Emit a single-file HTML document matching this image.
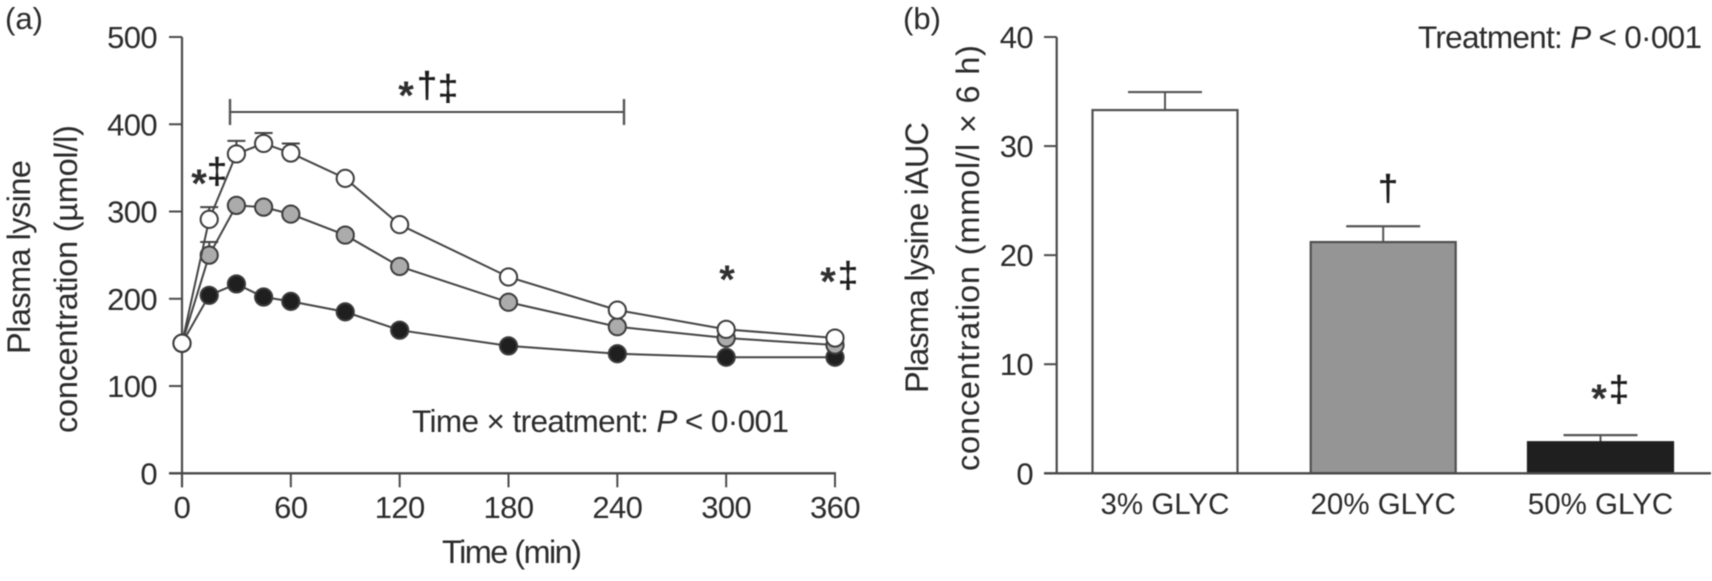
<!DOCTYPE html>
<html>
<head>
<meta charset="utf-8">
<title>Plasma lysine concentration and iAUC</title>
<style>
html,body{margin:0;padding:0;background:#fff;width:1712px;height:581px;overflow:hidden}
svg{display:block;filter:blur(0.55px)}
text{font-family:"Liberation Sans",sans-serif;fill:#2b2b2b}
.tick{font-size:31px;letter-spacing:-0.6px}
.note{font-size:31.5px}
.lab{font-size:32.5px}
.panel{font-size:31px}
.sym{font-size:36px;fill:#1c1c1c;stroke:#1c1c1c;stroke-width:0.5px}
.star{font-size:40px;fill:#2f2f2f;font-weight:bold}
</style>
</head>
<body>
<svg id="figure" xmlns="http://www.w3.org/2000/svg" width="1712" height="581" viewBox="0 0 1712 581">
  <g id="panel-a"></g>
  <g id="panel-b"></g>
  <g id="labels">
    <text x="5" y="29" class="panel">(a)</text>
    <text x="903" y="29" class="panel">(b)</text>
    <text transform="translate(30,354) rotate(-90)" class="lab" textLength="194" lengthAdjust="spacing">Plasma lysine</text>
    <text transform="translate(77,433) rotate(-90)" class="lab" textLength="308" lengthAdjust="spacing">concentration (µmol/l)</text>
    <text x="442" y="563" class="lab" textLength="140" lengthAdjust="spacing">Time (min)</text>
    <text x="412" y="432" class="note" textLength="377" lengthAdjust="spacing">Time × treatment: <tspan font-style="italic">P</tspan> &lt; 0·001</text>
    <text transform="translate(928,393) rotate(-90)" class="lab" textLength="271" lengthAdjust="spacing">Plasma lysine iAUC</text>
    <text transform="translate(979,471) rotate(-90)" class="lab" textLength="426" lengthAdjust="spacing">concentration (mmol/l × 6 h)</text>
    <text x="1418" y="48" class="note" textLength="284" lengthAdjust="spacing">Treatment: <tspan font-style="italic">P</tspan> &lt; 0·001</text>
  </g>
  <g id="annotations" text-anchor="middle">
    <line x1="230" y1="112" x2="624" y2="112" stroke="#4a4a4a" stroke-width="2"/>
    <line x1="230" y1="99" x2="230" y2="125" stroke="#555" stroke-width="2.4"/>
    <line x1="624" y1="99" x2="624" y2="125" stroke="#555" stroke-width="2.4"/>
    <text x="199" y="197" class="star">*</text>
    <text x="217" y="183" class="sym">‡</text>
    <text x="406" y="109" class="star">*</text>
    <text x="427" y="97" class="sym">†</text>
    <text x="448" y="100" class="sym">‡</text>
    <text x="727" y="293" class="star">*</text>
    <text x="828" y="295" class="star">*</text>
    <text x="848" y="287" class="sym">‡</text>
    <text x="1388" y="200" class="sym">†</text>
    <text x="1599" y="412" class="star">*</text>
    <text x="1619" y="401" class="sym">‡</text>
  </g>
</svg>
<script>
// Panel (a) data
var timePoints = [0, 15, 30, 45, 60, 90, 120, 180, 240, 300, 360];
var lysine3 = [149, 291, 366, 378, 367, 338, 285, 225, 187, 165, 155];
var lysine20 = [149, 250, 307, 305, 297, 273, 237, 196, 168, 155, 147];
var lysine50 = [149, 204, 217, 202, 197, 185, 164, 146, 137, 133, 133];
var lysine3Err = [0, 14, 15, 12, 11, 0, 0, 0, 0, 0, 0];
var lysine20Err = [0, 15, 0, 0, 0, 0, 0, 0, 0, 0, 0];
var lysine50Err = [0, 0, 0, 0, 0, 0, 0, 0, 0, 0, 0];
var xTicksA = [0, 60, 120, 180, 240, 300, 360];
var yTicksA = [0, 100, 200, 300, 400, 500];
// Panel (b) data
var barCategories = ['3% GLYC', '20% GLYC', '50% GLYC'];
var barValues = [33.3, 21.2, 2.85];
var barErrors = [1.65, 1.45, 0.65];
var yTicksB = [0, 10, 20, 30, 40];

// Axis functions
function xA(t) { return 182 + t * (835 - 182) / 360; }
function yA(v) { return 473.3 - v * (473.3 - 37) / 500; }
function yB(v) { return 473.3 - v * (473.3 - 37) / 40; }
function barLeft(i) { return [1092.5, 1310.7, 1528][i]; }
var barWidth = 145;

var NS = 'http://www.w3.org/2000/svg';
function make(parent, tag, attrs, txt) {
  var e = document.createElementNS(NS, tag);
  for (var k in attrs) e.setAttribute(k, attrs[k]);
  if (txt !== undefined) e.textContent = txt;
  parent.appendChild(e);
  return e;
}
var axisColor = '#4a4a4a';
var a = document.getElementById('panel-a');
var b = document.getElementById('panel-b');
var el;

// Panel (a) axes
el = make(a, 'line', {x1: xA(0), y1: yA(500), x2: xA(0), y2: yA(0) + 14, stroke: axisColor, 'stroke-width': 2.2});


el = make(a, 'line', {x1: 169, y1: yA(0), x2: xA(360) + 1, y2: yA(0), stroke: axisColor, 'stroke-width': 2.4});


yTicksA.forEach(function (v) {
  var t = make(a, 'line', {x1: 169, y1: yA(v), x2: xA(0), y2: yA(v), stroke: axisColor, 'stroke-width': 2});
  
  
  var l = make(a, 'text', {x: 157, y: yA(v) + 11, 'text-anchor': 'end', 'class': 'tick'}, String(v));
  
  
});
xTicksA.forEach(function (v) {
  var t = make(a, 'line', {x1: xA(v), y1: yA(0), x2: xA(v), y2: yA(0) + 14, stroke: axisColor, 'stroke-width': 2});
  
  
  var l = make(a, 'text', {x: xA(v), y: 518, 'text-anchor': 'middle', 'class': 'tick'}, String(v));
  
  
});

// Panel (a) series: drawn black first, white on top
function drawSeries(values, errors, fill, name) {
  var g = make(a, 'g', {});
  
  
  var pts = values.map(function (v, i) { return xA(timePoints[i]) + ',' + yA(v); }).join(' ');
  var line = make(g, 'polyline', {points: pts, fill: 'none', stroke: '#444', 'stroke-width': 2});
  
  
  values.forEach(function (v, i) {
    if (errors[i] > 0) {
      var top = yA(v + errors[i]);
      var stem = make(g, 'line', {x1: xA(timePoints[i]), y1: yA(v), x2: xA(timePoints[i]), y2: top, stroke: '#444', 'stroke-width': 2});
      
      
      var cap = make(g, 'line', {x1: xA(timePoints[i]) - 9, y1: top, x2: xA(timePoints[i]) + 9, y2: top, stroke: '#444', 'stroke-width': 2});
      
      
    }
  });
  values.forEach(function (v, i) {
    var c = make(g, 'circle', {cx: xA(timePoints[i]), cy: yA(v), r: 8.6, fill: fill, stroke: '#3c3c3c', 'stroke-width': 2});
    
    
  });
}
drawSeries(lysine50, lysine50Err, '#1f1f1f', 'series-50-glyc');
drawSeries(lysine20, lysine20Err, '#ababab', 'series-20-glyc');
drawSeries(lysine3, lysine3Err, '#ffffff', 'series-3-glyc');

// Panel (b) axes
el = make(b, 'line', {x1: 1056.7, y1: yB(40), x2: 1056.7, y2: yB(0), stroke: axisColor, 'stroke-width': 2.2});


yTicksB.forEach(function (v) {
  var t = make(b, 'line', {x1: 1044, y1: yB(v), x2: 1056.7, y2: yB(v), stroke: axisColor, 'stroke-width': 2});
  
  
  var l = make(b, 'text', {x: 1033, y: yB(v) + 11, 'text-anchor': 'end', 'class': 'tick'}, String(v));
  
  
});

// Panel (b) bars
var barFills = ['#ffffff', '#959595', '#1f1f1f'];
barCategories.forEach(function (c, i) {
  var cx = barLeft(i) + barWidth / 2;
  var top = yB(barValues[i] + barErrors[i]);
  var stem = make(b, 'line', {x1: cx, y1: yB(barValues[i]), x2: cx, y2: top, stroke: '#555', 'stroke-width': 2});
  
  
  var cap = make(b, 'line', {x1: cx - 37, y1: top, x2: cx + 37, y2: top, stroke: '#555', 'stroke-width': 2.2});
  
  
  var r = make(b, 'rect', {x: barLeft(i), y: yB(barValues[i]), width: barWidth, height: yB(0) - yB(barValues[i]), fill: barFills[i], stroke: i === 2 ? '#1f1f1f' : '#505050', 'stroke-width': 2.2});
  
  
  var l = make(b, 'text', {x: cx, y: 514, 'text-anchor': 'middle', 'class': 'tick', style: 'font-size:29.5px;letter-spacing:0'}, c);
  
  
});
el = make(b, 'line', {x1: 1044, y1: yB(0), x2: 1711, y2: yB(0), stroke: axisColor, 'stroke-width': 2.4});


</script>
</body>
</html>
